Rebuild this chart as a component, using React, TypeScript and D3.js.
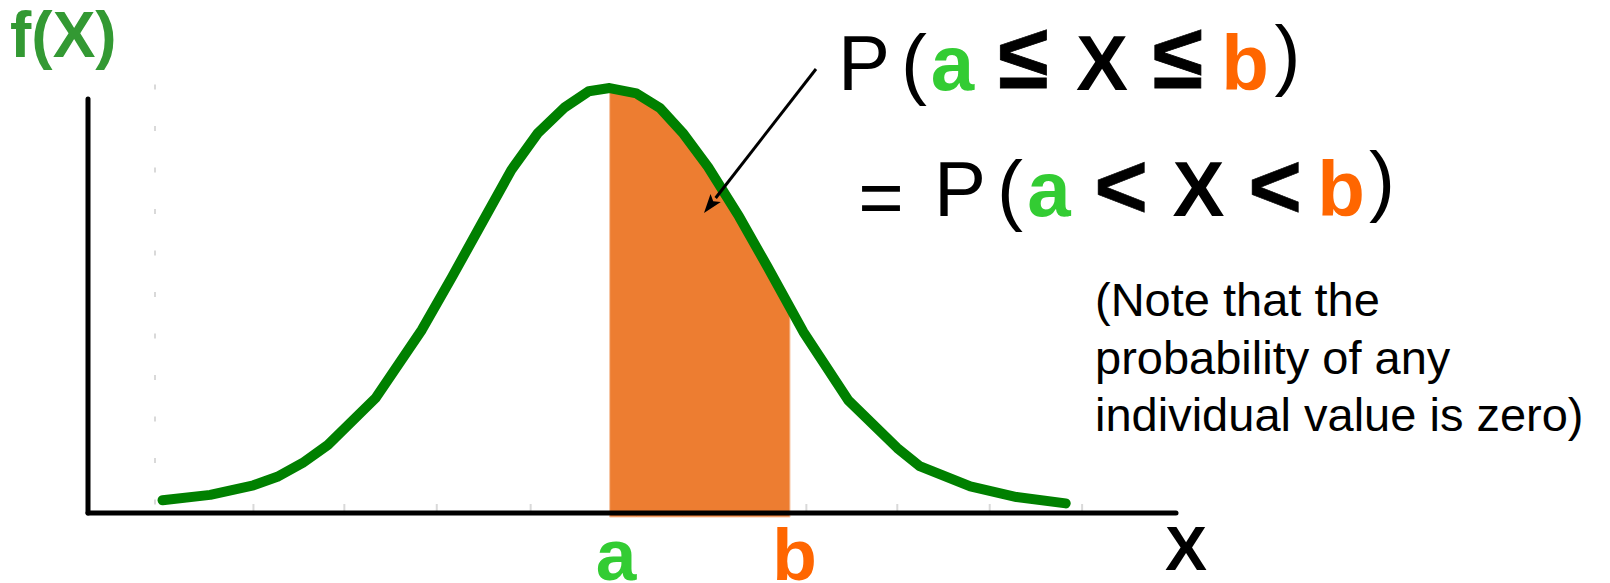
import React from "react";
import * as d3 from "d3";

// ---- data ----
const curveX = [-3.0, -2.68, -2.39, -2.23, -2.06, -1.89, -1.57, -1.26, -1.06, -0.87, -0.66, -0.48, -0.30, -0.14, 0.0, 0.18, 0.34, 0.49, 0.66, 0.87, 1.06, 1.30, 1.60, 1.93, 2.08, 2.42, 2.73, 3.06];
const curveY = [0.012, 0.017, 0.026, 0.034, 0.047, 0.064, 0.108, 0.172, 0.221, 0.269, 0.322, 0.357, 0.381, 0.396, 0.399, 0.394, 0.380, 0.357, 0.325, 0.278, 0.231, 0.170, 0.106, 0.061, 0.044, 0.025, 0.015, 0.009];
const boundA = 0.0;
const boundB = 1.21;
const tickValues = [-2.39, -1.78, -1.16, -0.53, 0.08, 0.69, 1.32, 1.93, 2.55, 3.17];

const W = 1610;
const H = 583;
const FONT = "'Liberation Sans', Arial, Helvetica, sans-serif";
const GREEN_LINE = "#008000";
const GREEN_A = "#33cc33";
const ORANGE_B = "#ff6600";
const FILL = "#ed7d31";

type Glyph = { ch: string; x: number; y: number; bold: boolean; color: string; size?: number; sw?: number };

const line1: Glyph[] = [
  { ch: "P", x: 864, y: 90, bold: false, color: "#000" },
  { ch: "(", x: 914, y: 90, bold: false, color: "#000" },
  { ch: "a", x: 952.5, y: 90, bold: true, color: GREEN_A },
  { ch: "\u2264", x: 1023.5, y: 88, bold: true, color: "#000", size: 92, sw: 0.8 },
  { ch: "X", x: 1102, y: 90, bold: true, color: "#000" },
  { ch: "\u2264", x: 1178, y: 88, bold: true, color: "#000", size: 92, sw: 0.8 },
  { ch: "b", x: 1245, y: 90, bold: true, color: ORANGE_B },
  { ch: ")", x: 1287.5, y: 81, bold: false, color: "#000" },
];
const line2: Glyph[] = [
  { ch: "=", x: 881, y: 224, bold: false, color: "#000" },
  { ch: "P", x: 960, y: 216, bold: false, color: "#000" },
  { ch: "(", x: 1010, y: 216, bold: false, color: "#000" },
  { ch: "a", x: 1049, y: 216, bold: true, color: GREEN_A },
  { ch: "<", x: 1121, y: 218, bold: true, color: "#000", size: 92, sw: 0.6 },
  { ch: "X", x: 1198.5, y: 216, bold: true, color: "#000" },
  { ch: "<", x: 1275, y: 218, bold: true, color: "#000", size: 92, sw: 0.6 },
  { ch: "b", x: 1341, y: 216, bold: true, color: ORANGE_B },
  { ch: ")", x: 1382, y: 206.5, bold: false, color: "#000" },
];
const noteLines = ["(Note that the", "probability of any", "individual value is zero)"];

export default function App() {
  const x = d3.scaleLinear().domain([-3.5, 3.8]).range([88, 1176]);
  const y = d3.scaleLinear().domain([0, 0.4]).range([513, 87]);

  const pts: [number, number][] = curveX.map((v, i) => [v, curveY[i]]);
  const interp = (z: number) => {
    for (let i = 0; i < pts.length - 1; i++) {
      const [x0, y0] = pts[i];
      const [x1, y1] = pts[i + 1];
      if (z >= x0 && z <= x1) return y0 + ((z - x0) / (x1 - x0)) * (y1 - y0);
    }
    return 0;
  };
  const fillPts: [number, number][] = [
    [boundA, interp(boundA)],
    ...pts.filter((p) => p[0] > boundA && p[0] < boundB),
    [boundB, interp(boundB)],
  ];

  const line = d3
    .line<[number, number]>()
    .x((d) => x(d[0]))
    .y((d) => y(d[1]));
  const area = d3
    .area<[number, number]>()
    .x((d) => x(d[0]))
    .y0(() => y(0) + 4)
    .y1((d) => y(d[1]));

  // arrow
  const ax0 = 816, ay0 = 69, ax1 = 704, ay1 = 213;
  const ang = Math.atan2(ay1 - ay0, ax1 - ax0);
  const headLen = 19, headHalf = 6.5;
  const bx = ax1 - headLen * Math.cos(ang);
  const by = ay1 - headLen * Math.sin(ang);
  const px = -Math.sin(ang), py = Math.cos(ang);
  const head = `M${ax1},${ay1}L${bx + headHalf * px},${by + headHalf * py}L${bx + 4 * Math.cos(ang)},${by + 4 * Math.sin(ang)}L${bx - headHalf * px},${by - headHalf * py}Z`;

  const renderGlyphs = (gs: Glyph[]) =>
    gs.map((g, i) => (
      <text
        key={i}
        x={g.x}
        y={g.y}
        textAnchor="middle"
        fontSize={g.size ?? 78}
        fontWeight={g.bold ? "bold" : "normal"}
        fill={g.color}
        stroke={g.sw ? g.color : undefined}
        strokeWidth={g.sw}
      >
        {g.ch}
      </text>
    ));

  return (
    <svg
      width={W}
      height={H}
      viewBox={`0 0 ${W} ${H}`}
      style={{ position: "absolute", left: 0, top: 0, background: "#fff" }}
      fontFamily={FONT}
    >
      {/* faint hidden-axis ticks */}
      <line x1={155} x2={155} y1={84.5} y2={508} stroke="#d9d9d9" strokeWidth={2} strokeDasharray="5 36.5" />
      {tickValues.map((t, i) => (
        <line key={i} x1={x(t)} x2={x(t)} y1={504} y2={512} stroke="#d9d9d9" strokeWidth={2} />
      ))}

      {/* shaded probability */}
      <path d={area(fillPts) || ""} fill={FILL} stroke="#f6c4a2" strokeWidth={1} />

      {/* axes */}
      <line x1={x(-3.5)} x2={x(-3.5)} y1={99} y2={y(0)} stroke="#000" strokeWidth={5} strokeLinecap="round" />
      <line x1={x(-3.5)} x2={x(3.8)} y1={y(0)} y2={y(0)} stroke="#000" strokeWidth={5} strokeLinecap="round" />

      {/* density curve */}
      <path d={line(pts) || ""} fill="none" stroke={GREEN_LINE} strokeWidth={10} strokeLinecap="round" strokeLinejoin="round" />

      {/* arrow */}
      <line x1={ax0} y1={ay0} x2={bx} y2={by} stroke="#000" strokeWidth={3} />
      <path d={head} fill="#000" />

      {/* labels */}
      <text x={10} y={57} fontSize={64} fontWeight="bold" fill="#339933">f(X)</text>
      <text x={1186} y={570} fontSize={63} fontWeight="bold" textAnchor="middle" fill="#000">X</text>
      <text x={x(boundA) + 6.5} y={580} fontSize={73} fontWeight="bold" textAnchor="middle" fill={GREEN_A}>a</text>
      <text x={x(boundB) + 4.5} y={580} fontSize={73} fontWeight="bold" textAnchor="middle" fill={ORANGE_B}>b</text>

      {renderGlyphs(line1)}
      {renderGlyphs(line2)}

      {noteLines.map((t, i) => (
        <text key={i} x={1095} y={316 + i * 57.5} fontSize={47} fill="#000">
          {t}
        </text>
      ))}
    </svg>
  );
}
